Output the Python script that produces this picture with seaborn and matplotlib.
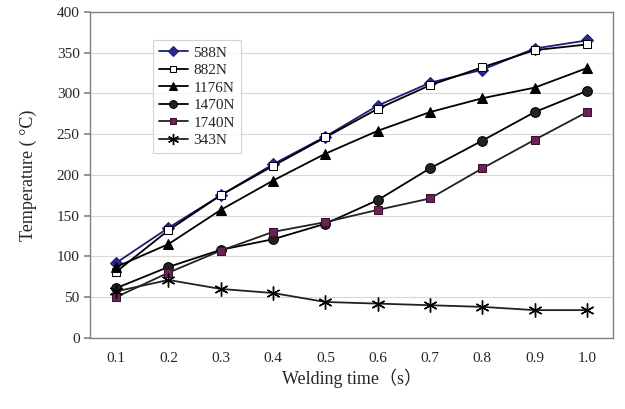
import matplotlib
matplotlib.use("Agg")
import matplotlib.pyplot as plt
import seaborn as sns
import pandas as pd
import numpy as np

times = [0.1, 0.2, 0.3, 0.4, 0.5, 0.6, 0.7, 0.8, 0.9, 1.0]
time_labels = ["0.1", "0.2", "0.3", "0.4", "0.5", "0.6", "0.7", "0.8", "0.9", "1.0"]
t588 = [92, 135, 175, 213, 247, 285, 313, 329, 355, 365]
t882 = [81, 132, 175, 211, 246, 281, 310, 332, 353, 360]
t1176 = [87, 115, 157, 193, 226, 254, 277, 294, 307, 331]
t1470 = [61, 87, 108, 121, 140, 169, 208, 242, 277, 303]
t1740 = [50, 80, 107, 130, 142, 157, 171, 208, 243, 277]
t343 = [57, 71, 60, 55, 44, 42, 40, 38, 34, 34]
series_names = ["588N", "882N", "1176N", "1470N", "1740N", "343N"]
series_vals = [t588, t882, t1176, t1470, t1740, t343]

sns.set_theme(style="white")
plt.rcParams['font.family'] = ['Liberation Serif', 'Noto Sans CJK SC']

fig = plt.figure(figsize=(6.25, 4.09), dpi=100)
ax = fig.add_axes([0.144, 0.174, 0.837, 0.797])

styles = {
    "588N": dict(color="#1c1c7a", marker="D", markersize=6, markerfacecolor="#2a2a90", markeredgecolor="#1c1c7a"),
    "882N": dict(color="black", marker="s", markersize=6, markerfacecolor="white", markeredgecolor="black"),
    "1176N": dict(color="black", marker="^", markersize=7, markerfacecolor="black", markeredgecolor="black"),
    "1470N": dict(color="black", marker="o", markersize=7, markerfacecolor="#222222", markeredgecolor="black"),
    "1740N": dict(color="#222222", marker="s", markersize=6, markerfacecolor="#6a2358", markeredgecolor="#3a1030"),
    "343N": dict(color="#222222", marker=(6, 2, 0), markersize=10, markerfacecolor="black", markeredgecolor="black", markeredgewidth=1.0),
}

for name, vals in zip(series_names, series_vals):
    df = pd.DataFrame({"time": times, "temp": vals})
    st = styles[name]
    sns.lineplot(data=df, x="time", y="temp", ax=ax, label=name, linewidth=1.3, **st)

ax.set_xlim(0.05, 1.05)
ax.set_ylim(0, 400)
ax.set_yticks(np.arange(0, 401, 50))
ax.set_xticks(times)
ax.set_xticklabels(time_labels)
ax.set_xticks(np.arange(0.05, 1.06, 0.1), minor=True)
ax.tick_params(axis="x", which="major", length=0, labelsize=11, pad=10)
ax.tick_params(axis="x", which="minor", length=4, direction="in", color="#888888")
ax.tick_params(axis="y", which="major", length=4, direction="out", color="#888888", labelsize=11, left=True)
ax.yaxis.grid(True, color="#d8d8d8", linewidth=0.8)
ax.set_axisbelow(True)
for s in ax.spines.values():
    s.set_color("#808080")
    s.set_linewidth(1.0)

ax.set_xlabel("Welding time（s）", fontsize=13, labelpad=3)
ax.set_ylabel("Temperature ( °C)", fontsize=13, labelpad=14)

leg = ax.legend(loc="upper left", bbox_to_anchor=(0.12, 0.914), frameon=True, fontsize=11,
                handlelength=1.9, labelspacing=0.25, borderpad=0.4, fancybox=False,
                handletextpad=0.35, markerscale=0.8, borderaxespad=0)
leg.get_frame().set_edgecolor("#c8c8c8")
leg.get_frame().set_linewidth(0.8)

fig.savefig("out.png", dpi=100)
